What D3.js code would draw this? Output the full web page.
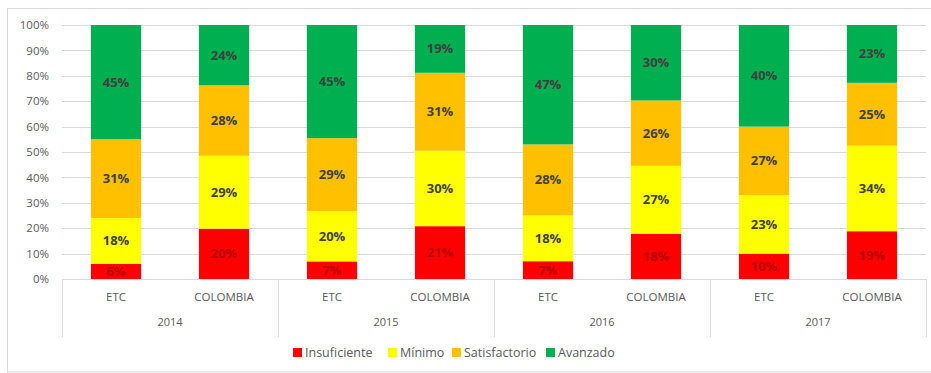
<!DOCTYPE html>
<html><head><meta charset="utf-8">
<script src="https://cdn.jsdelivr.net/npm/d3@7"></script>
<style>body{margin:0;background:#fff}svg{display:block}text{font-family:"Open Sans","Liberation Sans",sans-serif}</style>
</head><body>
<svg id="c" width="931" height="373"></svg>
<script>
const years = ["2014","2015","2016","2017"];
const groups = ["ETC","COLOMBIA"];
const seriesNames = ["Insuficiente","Mínimo","Satisfactorio","Avanzado"];
const seriesColors = ["#ff0000","#ffff00","#ffc000","#00b050"];
const insuficiente = [6,20,7,21,7,18,10,19];
const minimo = [18,29,20,30,18,27,23,34];
const satisfactorio = [31,28,29,31,28,26,27,25];
const avanzado = [45,24,45,19,47,30,40,23];
const yTicks = [0,0.1,0.2,0.3,0.4,0.5,0.6,0.7,0.8,0.9,1];

const svg = d3.select("#c");
const m = {left:62, right:926, top:25, bottom:279};

const cats = [];
years.forEach(y=>groups.forEach(g=>cats.push(y+"|"+g)));
const rows = cats.map((c,i)=>({cat:c, Insuficiente:insuficiente[i], "Mínimo":minimo[i], Satisfactorio:satisfactorio[i], Avanzado:avanzado[i]}));
const stack = d3.stack().keys(seriesNames).offset(d3.stackOffsetExpand)(rows);

const x = d3.scaleBand().domain(cats).range([m.left,m.right]).paddingInner(0.535).paddingOuter(0.2675);
const y = d3.scaleLinear().domain([0,1]).range([m.bottom,m.top]);

// outer border
svg.append("rect").attr("x",7.5).attr("y",8.5).attr("width",940).attr("height",363.5)
  .attr("fill","none").attr("stroke","#d9d9d9");

// gridlines
svg.append("g").selectAll("line").data(yTicks.slice(1)).join("line")
  .attr("x1",m.left).attr("x2",m.right).attr("y1",d=>Math.round(y(d))+0.5).attr("y2",d=>Math.round(y(d))+0.5)
  .attr("stroke","#d9d9d9");

// y axis labels
const yAxis = d3.axisLeft(y).tickValues(yTicks).tickFormat(d3.format(".0%")).tickSize(0).tickPadding(13);
const ya = svg.append("g").attr("transform",`translate(${m.left},0)`).call(yAxis);
ya.select(".domain").remove();
ya.selectAll("text").attr("fill","#595959").style("font-size","11.5px").style("font-family","'Open Sans',sans-serif");

// bars
const sg = svg.append("g").selectAll("g").data(stack).join("g").attr("fill",(d,i)=>seriesColors[i]);
sg.selectAll("rect").data(d=>d).join("rect")
  .attr("x",d=>x(d.data.cat)).attr("width",x.bandwidth())
  .attr("y",d=>y(d[1])).attr("height",d=>y(d[0])-y(d[1]));

// data labels
const lg = svg.append("g").selectAll("g").data(stack).join("g");
lg.selectAll("text").data((d,i)=>d.map(v=>({v, key:d.key, si:i}))).join("text")
  .attr("x",d=>x(d.v.data.cat)+x.bandwidth()/2)
  .attr("y",d=>(y(d.v[0])+y(d.v[1]))/2)
  .attr("dy","0.35em").attr("text-anchor","middle")
  .style("font-size","13px").style("font-weight","bold")
  .attr("fill",d=>d.si===0?"#b80000":"#3f3f3f")
  .text(d=>d.v.data[d.key]+"%");

// x axis line
svg.append("line").attr("x1",m.left).attr("x2",m.right).attr("y1",m.bottom+0.5).attr("y2",m.bottom+0.5).attr("stroke","#d9d9d9");

// group separators
const sepX = years.map(yr=>x(yr+"|ETC")-x.step()*x.paddingOuter()).concat([m.right]);
svg.append("g").selectAll("line").data(sepX).join("line")
  .attr("x1",d=>Math.round(d)+0.5).attr("x2",d=>Math.round(d)+0.5)
  .attr("y1",m.bottom).attr("y2",337).attr("stroke","#d9d9d9");

// category labels
svg.append("g").selectAll("text").data(cats).join("text")
  .attr("x",d=>x(d)+x.bandwidth()/2).attr("y",301).attr("text-anchor","middle")
  .attr("fill","#595959").style("font-size","11.5px")
  .text(d=>d.split("|")[1]);

// year labels
svg.append("g").selectAll("text").data(years).join("text")
  .attr("x",(d,i)=>(sepX[i]+sepX[i+1])/2).attr("y",326).attr("text-anchor","middle")
  .attr("fill","#595959").style("font-size","11px")
  .text(d=>d);

// legend
const legX = [293,388,452,546];
const leg = svg.append("g").selectAll("g").data(seriesNames).join("g")
  .attr("transform",(d,i)=>`translate(${legX[i]},348)`);
leg.append("rect").attr("width",9).attr("height",9).attr("fill",(d,i)=>seriesColors[i]);
leg.append("text").attr("x",12).attr("y",4.5).attr("dy","0.35em").attr("fill","#595959")
  .style("font-size","12.5px").text(d=>d);
</script>
</body></html>
